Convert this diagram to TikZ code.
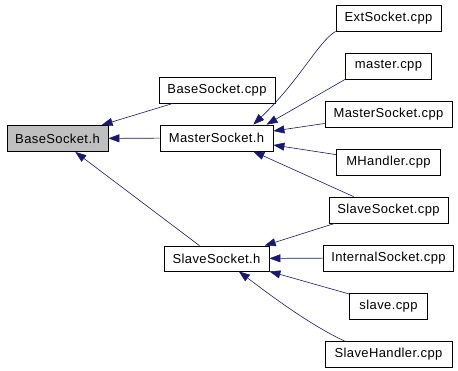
\documentclass[tikz,border=0pt]{standalone}
\usepackage{fontspec}
\setmainfont[LetterSpace=3]{Liberation Sans}
\usetikzlibrary{arrows.meta}
\definecolor{depblue}{HTML}{191970}
\begin{document}
\begin{tikzpicture}[
    x=1pt,y=-1pt,
    every node/.style={font=\fontsize{13}{15}\selectfont},
    file/.style={draw=black, line width=0.8pt, fill=white, inner sep=0pt, minimum height=26pt},
    current/.style={file, fill=black!25},
    dep/.style={draw=depblue, line width=0.6pt, -{Triangle[length=11pt,width=8pt]}}
]
    \useasboundingbox (0,0) rectangle (458,370);

    % headers
    \node[current, minimum width=101pt] (bsh) at (57.5,138.5) {BaseSocket.h};
    \node[file, minimum width=113pt] (msh) at (216.5,138) {MasterSocket.h};
    \node[file, minimum width=105pt, minimum height=25pt] (ssh) at (216.5,258.5) {SlaveSocket.h};
    \node[file, minimum width=116pt] (bsc) at (217,90) {BaseSocket.cpp};

    % sources on the right
    \foreach \name/\y/\w/\lab in {ext/18/105/ExtSocket.cpp,mas/66/86/master.cpp,msc/114.5/127/MasterSocket.cpp,mhc/162/104/MHandler.cpp,ssc/210/119/SlaveSocket.cpp,isc/258/130/InternalSocket.cpp,slc/306/78/slave.cpp,shc/354.5/127/SlaveHandler.cpp} {
        \node[file, minimum width=\w pt] (\name) at (388.5,\y) {\lab};
    }

    % includes of BaseSocket.h
    \draw[dep] (bsc) -- (bsh);
    \draw[dep] (msh) -- (bsh);
    \draw[dep] (ssh) -- (bsh);

    % includes of MasterSocket.h
    \draw[dep] (ext.south west) .. controls (318,42) and (300,80) .. (msh.20);
    \draw[dep] (mas.south west) -- (msh.15);
    \draw[dep] (msc.188) -- (msh.7);
    \draw[dep] (mhc.172) -- (msh.-7);
    \draw[dep] (ssc.159) -- (msh.-20);

    % includes of SlaveSocket.h
    \draw[dep] (ssc.194) -- (ssh.15);
    \draw[dep] (isc) -- (ssh);
    \draw[dep] (slc.163) -- (ssh.south east);
    \draw[dep] (shc.163) .. controls (310,325) and (270,295) .. (ssh.-30);
\end{tikzpicture}
\end{document}
